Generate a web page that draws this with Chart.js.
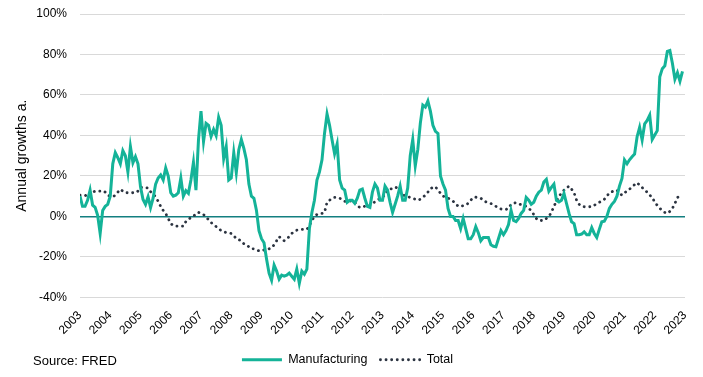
<!DOCTYPE html>
<html lang="en">
<head>
    <meta charset="UTF-8">
    <title>Manufacturing vs Total</title>
    <script src="https://cdn.jsdelivr.net/npm/chart.js"></script>
    <style>
        body { margin: 0; background: #fff; }
        #wrap { position: relative; width: 703px; height: 377px; }
        #fuente { position: absolute; left: 33px; top: 353px; font: 13px "Liberation Sans", Arial, sans-serif; color: #000; }
    </style>
</head>
<body>
    <div id="wrap">
        <canvas id="grafica" width="703" height="377"></canvas>
        <div id="fuente">Source: FRED</div>
    </div>

    <script>
        // monthly annual growth rates, Jan 2003 .. Dec 2022 (%)
        const startYear = 2003;
        const endYear = 2023;

        const manufacturing = [
            10, 5, 5, 8, 13, 5.6, 4.5, 0.6, -8.4, 3, 5, 6,
            10, 26, 31.5, 29, 26, 32.5, 30, 22, 34.5, 26.5, 29.5, 26,
            14.7, 8.4, 6, 9.7, 4.4, 9, 16, 19, 20.5, 18, 24, 20,
            11.7, 10, 10.5, 11.7, 19, 10, 12.7, 11.4, 18, 26.7, 13, 37.8,
            52, 37, 46, 45, 39.5, 43, 40, 49, 45, 28.6, 34.5, 18,
            19, 31.5, 21.6, 33, 38, 33.6, 28, 16, 10, 9, 3, -7,
            -11, -13, -21, -28, -31.5, -24, -27, -31, -29, -29.5, -29, -28,
            -29.5, -31, -26, -33, -27, -28.5, -26, -6, 2, 8, 18, 22,
            28, 41, 50.6, 45, 37.8, 31, 35.8, 18, 14, 13, 7, 8,
            8, 6.5, 9, 13, 13.5, 9, 5, 4.5, 12, 16, 14, 8,
            8, 15, 13, 7, 2, 6, 10, 15, 8, 8, 14, 30,
            38, 25, 33, 46, 55, 54, 57, 52, 45, 42, 41, 20,
            16, 13, 4, 0, 0, -2, -2, -6, -1, -6, -11, -11,
            -9, -5, -8, -12, -10.4, -10.4, -10.4, -14, -14.7, -15, -11, -7,
            -9, -7, -4, 3, -2, -2.6, -1, 1.5, 3, 9.4, 8, 6,
            7, 10, 12, 13, 17, 18.3, 12.5, 14.4, 16, 8, 7.2, 8,
            11.4, 6.4, 1.5, -2.6, -3.5, -9, -9, -8.7, -7.6, -9, -9, -5.5,
            -8.4, -10.4, -6.4, -2.6, -2.3, 0, 4, 6, 7.4, 10, 15, 18.8,
            27.9, 26, 28, 29.5, 30.8, 39.4, 44, 37.8, 45.7, 47.4, 50, 38,
            40.2, 42.4, 69, 73, 74.4, 81.5, 82, 75.7, 67.8, 71, 66.8, 71.6
        ];

        const total = [
            10.5, 10.5, 10.5, 10, 10, 12, 12.5, 12.5, 12.5, 12.7, 12, 10.5,
            10, 9.7, 10.5, 12, 13.4, 12.5, 11.7, 11.7, 11.7, 11.7, 11.7, 12.5,
            14.3, 14.3, 14.3, 14, 12.2, 11, 9.7, 7.5, 5, 3, 1.5, -1,
            -3.5, -4.5, -4.8, -4.8, -4.8, -4.8, -2.5, -1.5, -0.5, 0, 1.5, 2,
            1.5, 1, -0.5, -1.5, -3, -4, -5, -6, -7, -7.5, -8, -8.2,
            -8.4, -9.5, -11, -11.5, -12, -13.5, -14, -15, -16, -16, -16.5, -17,
            -17, -16.5, -16, -16, -15.5, -14, -12, -10, -11, -12, -11, -10,
            -8.4, -7.5, -6.8, -6.6, -6.4, -6.4, -6.4, -4.5, -2, 0, 1, 1.5,
            1.5, 2, 7, 8, 9, 9.4, 9.4, 9, 8.5, 7.5, 7.2, 7.7,
            7.5, 7, 5.5, 4.4, 4.7, 5, 4.8, 5.5, 6.4, 7.2, 8, 9,
            9.7, 10.5, 13, 13.5, 13.8, 14.5, 14, 12.5, 11, 10, 9.7, 9.4,
            9, 8.5, 8, 8.5, 9.5, 10.5, 12, 13.8, 14.3, 14.7, 13, 11.5,
            10, 9.7, 9, 8.5, 7.5, 6.5, 5, 5, 5.3, 5.6, 6.5, 8,
            9.4, 9.5, 9.3, 9, 8, 7.2, 6.8, 6.4, 5.8, 5, 4.2, 3.7,
            3.5, 3.5, 4, 6, 6.5, 6.8, 6.3, 5.8, 5.3, 5, 4, 2.8,
            1, -1, -2, -2, -2, -1, 0, 2, 5, 7.5, 10, 11.5,
            13, 14, 15, 13.5, 11.7, 8, 6, 5, 4.8, 4.8, 4.8, 4.8,
            5.5, 6.3, 7, 7.6, 8.5, 10, 11.7, 12.2, 12.7, 13, 11.5, 10.5,
            11.7, 12.5, 13.5, 14.7, 15.7, 16.7, 15.5, 14.3, 13, 12, 10.5, 9.5,
            7, 5.5, 4, 3, 2, 1.5, 2.5, 4, 6.4, 9.4, 10, 10
        ];

        const yTicks = [-40, -20, 0, 20, 40, 60, 80, 100];

        const aPuntos = arr => arr.map((v, i) => ({ x: startYear + i / 12, y: v }));

        Chart.defaults.font.family = "'Liberation Sans', Arial, sans-serif";
        Chart.defaults.color = '#000';

        const ctx = document.getElementById('grafica').getContext('2d');
        new Chart(ctx, {
            type: 'line',
            data: {
                datasets: [{
                    label: 'Manufacturing',
                    data: aPuntos(manufacturing),
                    borderColor: '#14b398',
                    backgroundColor: '#14b398',
                    borderWidth: 3,
                    pointRadius: 0,
                    pointStyle: 'line',
                    tension: 0
                }, {
                    label: 'Total',
                    data: aPuntos(total),
                    borderColor: '#2b3340',
                    backgroundColor: '#2b3340',
                    borderWidth: 2.8,
                    borderDash: [0.1, 5.5],
                    borderCapStyle: 'round',
                    pointRadius: 0,
                    pointStyle: 'line',
                    tension: 0
                }]
            },
            options: {
                responsive: false,
                animation: false,
                layout: { padding: { left: 10, right: 18, top: 14, bottom: 1 } },
                plugins: {
                    legend: {
                        display: true,
                        position: 'bottom',
                        labels: {
                            usePointStyle: true,
                            pointStyleWidth: 40,
                            boxHeight: 10,
                            font: { size: 12.5 },
                            color: '#000',
                            padding: 13,
                            // legend line samples keep the dataset dash pattern
                            generateLabels: chart => {
                                const items = Chart.defaults.plugins.legend.labels.generateLabels(chart);
                                items.forEach(it => {
                                    const ds = chart.data.datasets[it.datasetIndex];
                                    it.lineDash = ds.borderDash || [];
                                    it.lineCap = ds.borderCapStyle || 'butt';
                                    it.lineWidth = ds.borderWidth;
                                    it.strokeStyle = ds.borderColor;
                                });
                                return items;
                            }
                        }
                    },
                    tooltip: { enabled: false }
                },
                scales: {
                    x: {
                        type: 'linear',
                        min: startYear,
                        max: endYear,
                        grid: { display: false },
                        border: { display: false },
                        ticks: {
                            stepSize: 1,
                            autoSkip: false,
                            maxRotation: 45,
                            minRotation: 45,
                            font: { size: 12 },
                            color: '#000',
                            callback: v => String(v)
                        }
                    },
                    y: {
                        min: yTicks[0],
                        max: yTicks[yTicks.length - 1],
                        border: { display: false },
                        grid: {
                            color: c => c.tick.value === 0 ? '#137f80' : '#d9d9d9',
                            lineWidth: c => c.tick.value === 0 ? 1.5 : 1,
                            drawTicks: false
                        },
                        ticks: {
                            stepSize: 20,
                            padding: 13,
                            font: { size: 12 },
                            color: '#000',
                            callback: v => v + '%'
                        },
                        title: {
                            display: true,
                            text: 'Annual growths a.',
                            font: { size: 14 },
                            color: '#000',
                            padding: { top: 3.6, bottom: 0 }
                        },
                        // fixed axis width; tick padding should not push the plot top down
                        afterFit: s => {
                            s.width = 70;
                            s.paddingTop = 0;
                            s.paddingBottom = 0;
                        }
                    }
                }
            }
        });
    </script>
</body>
</html>
